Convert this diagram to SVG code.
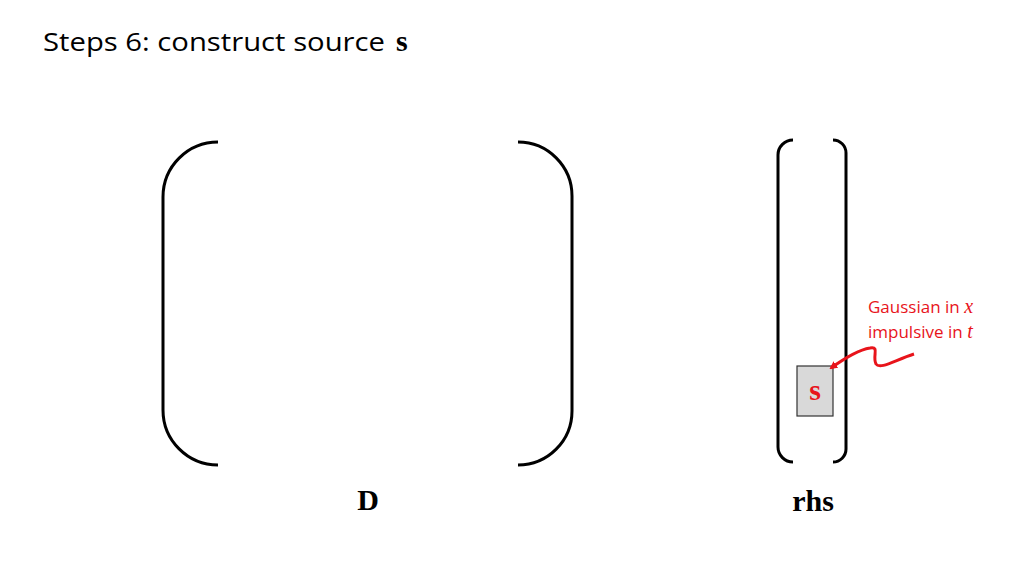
<svg xmlns="http://www.w3.org/2000/svg" width="1024" height="576" viewBox="0 0 1024 576">
<style>
.br{fill:none;stroke:#000;stroke-width:3}
.t{font-family:"Liberation Serif",serif;font-weight:bold}
.r{font-family:"Open Sans","Liberation Sans",sans-serif;font-size:17px;fill:#e8141b}
</style>
<defs><marker id="ah" markerWidth="8" markerHeight="8" refX="6" refY="4" orient="auto" markerUnits="userSpaceOnUse"><path d="M0,0 L8,4 L0,8 Z" fill="#e8141b"/></marker></defs>
<rect width="1024" height="576" fill="#fff"/>
<text x="43" y="51" font-family="Open Sans,Liberation Sans,sans-serif" font-size="26" textLength="342" lengthAdjust="spacingAndGlyphs">Steps 6: construct source</text>
<text class="t" x="396" y="51" font-size="30">s</text>
<g id="D">
<path class="br" d="M218,142 A55,55 0 0 0 163,197 L163,410 A55,55 0 0 0 218,465"/>
<path class="br" d="M518,142 A54,54 0 0 1 572,196 L572,411 A54,54 0 0 1 518,465"/>
<text class="t" x="368" y="510" font-size="30" text-anchor="middle">D</text>
</g>
<g id="rhs">
<path class="br" d="M793,140 A15,15 0 0 0 778,155 L778,447 A15,15 0 0 0 793,462"/>
<path class="br" d="M833,140 A13,13 0 0 1 846,153 L846,449 A13,13 0 0 1 833,462"/>
<text class="t" x="813" y="511" font-size="30" text-anchor="middle">rhs</text>
</g>
<g id="s">
<rect x="797" y="366" width="36" height="50" fill="#d9d9d9" stroke="#333" stroke-width="1.2"/>
<text class="t" x="815" y="400" font-size="30" fill="#e8141b" text-anchor="middle">s</text>
</g>
<g id="label">
<text class="r" x="868" y="313">Gaussian in <tspan font-family="Liberation Serif,serif" font-style="italic" font-size="20">x</tspan></text>
<text class="r" x="868" y="338">impulsive in <tspan font-family="Liberation Serif,serif" font-style="italic" font-size="20">t</tspan></text>
</g>
<g id="connectors">
<path d="M914,354 C895,360 880,370 876,364 C872,356 880,346 870,348 C858,350 845,358 831,368" fill="none" stroke="#e8141b" stroke-width="3" marker-end="url(#ah)"/>
</g>
</svg>
